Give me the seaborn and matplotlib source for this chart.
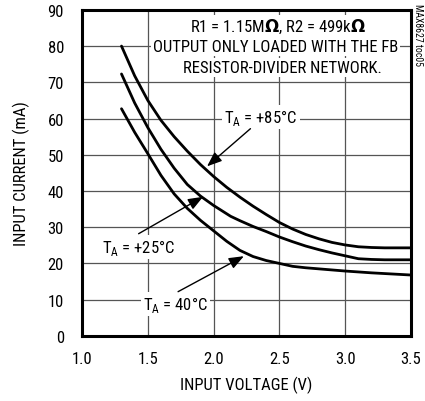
import matplotlib
matplotlib.use("Agg")
import matplotlib.pyplot as plt
import seaborn as sns
import pandas as pd

# input voltage (V) and input current (mA)
v_hot = [1.3, 1.4, 1.5, 1.6, 1.7, 1.8, 1.9, 2.0, 2.1, 2.2, 2.3, 2.4, 2.5, 2.6, 2.7, 2.8, 2.9, 3.0, 3.1, 3.2, 3.3, 3.4, 3.5]
i_hot = [80, 71.8, 65, 59.5, 55, 51, 47.3, 44, 41, 38.3, 35.8, 33.5, 31.3, 29.5, 28, 26.8, 25.8, 25.1, 24.6, 24.4, 24.3, 24.3, 24.3]

v_room = [1.3, 1.4, 1.5, 1.6, 1.7, 1.8, 1.9, 2.0, 2.13, 2.2, 2.3, 2.4, 2.5, 2.6, 2.7, 2.8, 2.9, 3.0, 3.1, 3.2, 3.3, 3.4, 3.5]
i_room = [72.3, 64.3, 57.5, 51.5, 46.3, 41.8, 38.6, 36, 33, 31.8, 30.2, 28.8, 27.3, 26, 24.8, 23.8, 22.9, 22.1, 21.3, 21.1, 21.0, 21.0, 21.0]

v_cold = [1.3, 1.4, 1.5, 1.6, 1.7, 1.8, 1.9, 2.0, 2.1, 2.2, 2.3, 2.4, 2.5, 2.6, 2.7, 2.8, 2.9, 3.0, 3.2, 3.4, 3.5]
i_cold = [62.7, 56.2, 50.3, 44.3, 39.2, 35.2, 31.9, 29, 26.1, 23.6, 21.9, 20.8, 20, 19.2, 18.8, 18.5, 18.2, 17.9, 17.4, 17.0, 16.8]

x_ticks = [1.0, 1.5, 2.0, 2.5, 3.0, 3.5]
y_ticks = [0, 10, 20, 30, 40, 50, 60, 70, 80, 90]

df = pd.concat([
    pd.DataFrame({"v": v_hot, "i": i_hot, "t": "85"}),
    pd.DataFrame({"v": v_room, "i": i_room, "t": "25"}),
    pd.DataFrame({"v": v_cold, "i": i_cold, "t": "-40"}),
])

sns.set_style("white")
plt.rcParams['font.family'] = ['Liberation Sans Narrow', 'Roboto Condensed', 'Archivo Narrow', 'DejaVu Sans']
plt.rcParams['text.color'] = 'black'
plt.rcParams['axes.labelcolor'] = 'black'
plt.rcParams['xtick.color'] = 'black'
plt.rcParams['ytick.color'] = 'black'

fig = plt.figure(figsize=(4.25, 4.02), dpi=100)
ax = fig.add_axes([0.193, 0.162, 0.774, 0.811])

sns.lineplot(data=df, x="v", y="i", units="t", estimator=None, sort=False,
             color="black", linewidth=2.0, ax=ax, legend=False)

ax.set_xlim(1.0, 3.5)
ax.set_ylim(0, 90)
ax.set_xticks(x_ticks)
ax.set_xticklabels([f"{x:.1f}" for x in x_ticks])
ax.set_yticks(y_ticks)
ax.grid(True, color="#555555", linewidth=0.9)
ax.set_axisbelow(True)
ax.tick_params(length=0, labelsize=12)
ax.tick_params(axis="x", pad=11)
ax.tick_params(axis="y", pad=13)
for s in ax.spines.values():
    s.set_linewidth(2.2)
    s.set_color("black")
ax.set_xlabel("INPUT VOLTAGE (V)", fontsize=12, labelpad=7)
ax.set_ylabel("INPUT CURRENT (mA)", fontsize=12, labelpad=13)

bg = dict(facecolor="white", edgecolor="none", pad=1.5)
ax.text(2.49, 85.6, "R1 = 1.15M$\\mathbf{\\Omega}$, R2 = 499k$\\mathbf{\\Omega}$", ha="center", va="center", fontsize=12, bbox=bg)
ax.text(2.47, 80, "OUTPUT ONLY LOADED WITH THE FB", ha="center", va="center", fontsize=12, bbox=bg)
ax.text(2.52, 74, "RESISTOR-DIVIDER NETWORK.", ha="center", va="center", fontsize=12, bbox=bg)

ax.text(2.36, 60.5, "T$_\\mathregular{A}$ = +85°C", ha="center", va="center", fontsize=12, bbox=bg)
ax.text(1.43, 24.6, "T$_\\mathregular{A}$ = +25°C", ha="center", va="center", fontsize=12, bbox=bg)
ax.text(1.71, 8.8, "T$_\\mathregular{A}$ = 40°C", ha="center", va="center", fontsize=12, bbox=bg)

arrow = dict(arrowstyle="-|>,head_length=0.9,head_width=0.35", color="black", lw=1.0, shrinkA=0, shrinkB=0)
ax.annotate("", xy=(1.95, 46.8), xytext=(2.28, 57.2), arrowprops=arrow)
ax.annotate("", xy=(1.92, 38.4), xytext=(1.43, 28.2), arrowprops=arrow)
ax.annotate("", xy=(2.23, 22), xytext=(1.73, 12.2), arrowprops=arrow)

fig.text(0.984, 0.99, "MAX8627 toc05", rotation=270, ha="center", va="top", fontsize=7)

fig.savefig("out.png", dpi=100)
